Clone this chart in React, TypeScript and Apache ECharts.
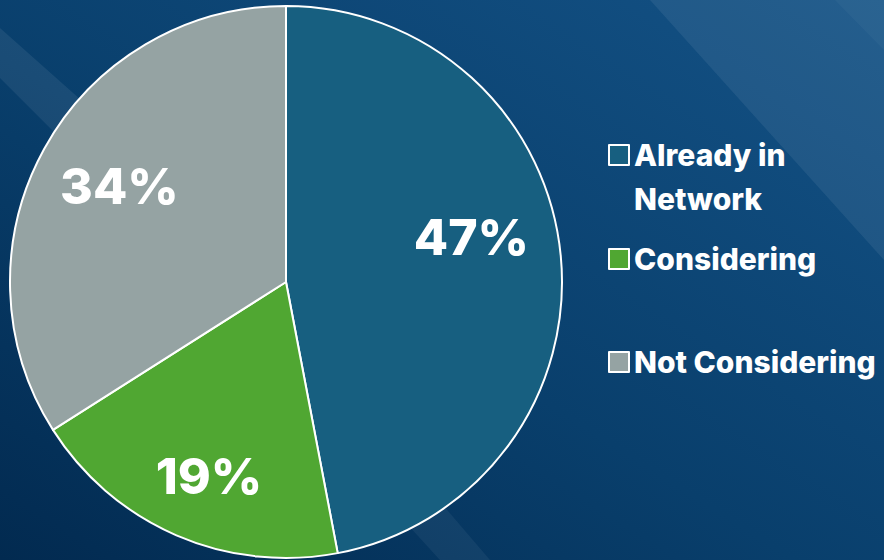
import React, { useEffect, useRef } from "react";
import * as echarts from "echarts";

const categories = ["Already in\nNetwork", "Considering", "Not Considering"];
const values = [47, 19, 34];
const colors = ["#175f80", "#50a732", "#95a3a3"];

export default function App() {
  const ref = useRef<HTMLDivElement>(null);
  useEffect(() => {
    document.body.style.margin = "0";
    const chart = echarts.init(ref.current!, null, { renderer: "svg" });
    const font = "Inter, 'Noto Sans', sans-serif";
    const labelOffsets = [
      [45, -32],
      [-21, 65],
      [-43, -28],
    ];
    const legendTops = [89, 237, 340];
    const option: any = {
      animation: false,
      backgroundColor: {
        type: "linear",
        x: 0,
        y: 1,
        x2: 1,
        y2: 0,
        colorStops: [
          { offset: 0, color: "#022a50" },
          { offset: 0.45, color: "#093f6c" },
          { offset: 1, color: "#145286" },
        ],
      },
      graphic: [
        {
          type: "polygon",
          silent: true,
          shape: { points: [[0, 28], [0, 78], [60, 138], [90, 108]] },
          style: { fill: "rgba(255,255,255,0.07)" },
        },
        {
          type: "polygon",
          silent: true,
          shape: { points: [[650, 0], [884, 0], [884, 260]] },
          style: { fill: "rgba(255,255,255,0.07)" },
        },
        {
          type: "polygon",
          silent: true,
          shape: { points: [[835, 0], [884, 0], [884, 50]] },
          style: { fill: "rgba(255,255,255,0.03)" },
        },
        {
          type: "polygon",
          silent: true,
          shape: { points: [[330, 440], [370, 420], [490, 560], [440, 560]] },
          style: { fill: "rgba(255,255,255,0.05)" },
        },
      ],
      legend: categories.map((c, i) => ({
        data: [c],
        orient: "vertical",
        left: 608,
        top: legendTops[i],
        padding: 0,
        itemWidth: 20,
        itemHeight: 20,
        icon: "rect",
        selectedMode: false,
        formatter: (name: string) => (i === 0 ? "\n" + name : name),
        itemStyle: { borderColor: "#ffffff", borderWidth: 2 },
        textStyle: {
          color: "#ffffff",
          fontFamily: font,
          fontWeight: 800,
          fontSize: 30,
          lineHeight: 44,
        },
      })),
      series: [
        {
          type: "pie",
          center: [286, 282],
          radius: 276,
          startAngle: 90,
          clockwise: true,
          color: colors,
          itemStyle: { borderColor: "#ffffff", borderWidth: 2 },
          label: {
            show: true,
            position: "inside",
            formatter: "{c}%",
            color: "#ffffff",
            fontFamily: font,
            fontWeight: 800,
            fontSize: 50,
          },
          labelLine: { show: false },
          emphasis: { disabled: true },
          data: categories.map((c, i) => ({
            name: c,
            value: values[i],
            label: { offset: labelOffsets[i] },
          })),
        },
      ],
    };
    chart.setOption(option);
    return () => chart.dispose();
  }, []);
  return (
    <div
      ref={ref}
      style={{ position: "absolute", left: 0, top: 0, width: 884, height: 560 }}
    />
  );
}
